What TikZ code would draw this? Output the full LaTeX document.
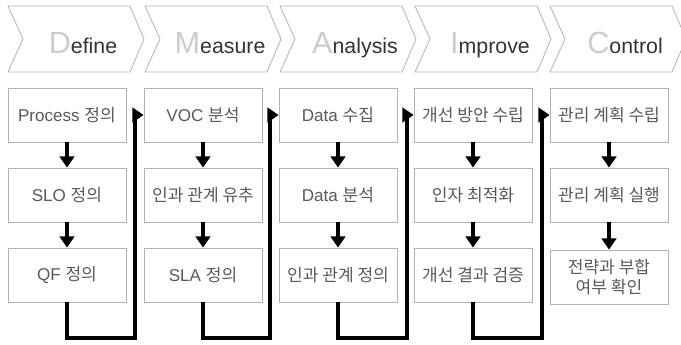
\documentclass[tikz,border=0pt]{standalone}
\usepackage{fontspec}
\setmainfont{Liberation Sans}
\newfontfamily\kr{Noto Sans CJK KR}
\usetikzlibrary{arrows.meta}

\begin{document}
\begin{tikzpicture}[x=0.75pt,y=-0.75pt,
  box/.style={draw=gray!60, line width=0.6pt, minimum width=88.5pt,
    minimum height=40.5pt, inner sep=0pt, align=center, text=black!65,
    font=\fontsize{12.8}{15}\selectfont},
  flow/.style={line width=3.6pt, -{Triangle[length=8.5pt,width=11pt]}},
  chev/.style={draw=gray!60, line width=0.6pt},
  htext/.style={anchor=base, inner sep=0pt, text=black!80,
    font=\fontsize{16}{16}\selectfont}
]
\useasboundingbox (0,0) rectangle (681,344);

% DMAIC phase chevrons
\foreach \L/\B/\R in {8/D/efine, 145/M/easure, 280/A/nalysis, 415/I/mprove, 550/C/ontrol}{
  \draw[chev] (\L,6) -- (\L+122,6) -- (\L+136,39) -- (\L+122,72)
    -- (\L,72) -- (\L+15,39) -- cycle;
  \node[htext] (h\B) at (\L+75,53) {{\color{gray!40}\fontsize{23}{23}\selectfont \B}\R};
}

% Define
\node[box] (a1) at (67,115) {Process {\kr 정의}};
\node[box] (a2) at (67,195) {SLO {\kr 정의}};
\node[box] (a3) at (67,275) {QF {\kr 정의}};
% Measure
\node[box] (b1) at (203,115) {VOC {\kr 분석}};
\node[box] (b2) at (203,195) {\kr 인과 관계 유추};
\node[box] (b3) at (203,275) {SLA {\kr 정의}};
% Analysis
\node[box] (c1) at (338,115) {Data {\kr 수집}};
\node[box] (c2) at (338,195) {Data {\kr 분석}};
\node[box] (c3) at (338,275) {\kr 인과 관계 정의};
% Improve
\node[box] (d1) at (473,115) {\kr 개선 방안 수립};
\node[box] (d2) at (473,195) {\kr 인자 최적화};
\node[box] (d3) at (473,275) {\kr 개선 결과 검증};
% Control
\node[box] (e1) at (609,115) {\kr 관리 계획 수립};
\node[box] (e2) at (609,195) {\kr 관리 계획 실행};
\node[box] (e3) at (609,277) {\kr 전략과 부합\\\kr 여부 확인};

% steps inside each phase
\foreach \c in {a,b,c,d,e}{
  \draw[flow] (\c1.south) -- (\c2.north);
  \draw[flow] (\c2.south) -- (\c3.north);
}

% hand-over from one phase to the next
\coordinate (j1) at (135,338);
\coordinate (j2) at (270,338);
\coordinate (j3) at (407,338);
\coordinate (j4) at (542,338);
\draw[flow] (a3.south) |- (j1) |- (b1.west);
\draw[flow] (b3.south) |- (j2) |- (c1.west);
\draw[flow] (c3.south) |- (j3) |- (d1.west);
\draw[flow] (d3.south) |- (j4) |- (e1.west);
\end{tikzpicture}
\end{document}
